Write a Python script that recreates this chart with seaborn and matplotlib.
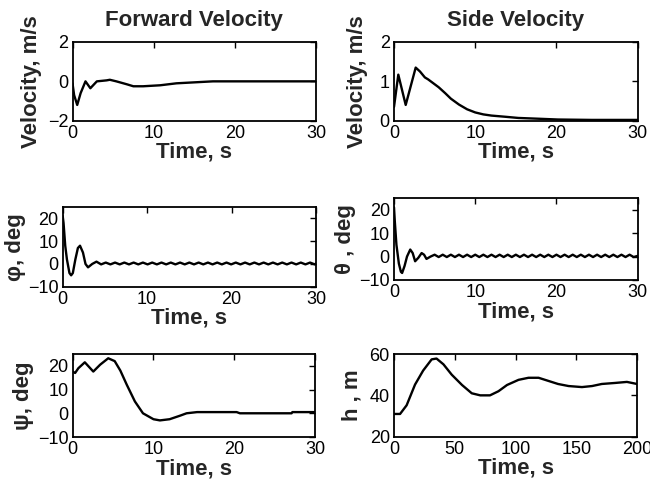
import numpy as np
import pandas as pd
import seaborn as sns
import matplotlib
matplotlib.use("Agg")
import matplotlib.pyplot as plt
from matplotlib import transforms

# forward velocity, m/s
fwd_t = [0, 0.2, 0.58, 1.0, 1.6, 2.2, 3.0, 4.2, 4.6, 5.4, 6.7, 7.5, 8.7, 10.8, 12.8, 17.3, 30]
fwd_v = [-0.1, -0.7, -1.2, -0.6, 0.0, -0.35, 0.0, 0.05, 0.08, 0.0, -0.15, -0.25, -0.25, -0.2, -0.1, 0.0, 0.0]

# side velocity, m/s
side_t = [0, 0.53, 1.44, 2.67, 3.2, 3.8, 4.2, 5.5, 6.3, 7.0, 8.0, 9.0, 10.0, 11.0, 12, 13.7,
          15.3, 17.8, 20.2, 24.3, 30]
side_v = [0.35, 1.17, 0.4, 1.35, 1.25, 1.1, 1.05, 0.85, 0.7, 0.56, 0.41, 0.29, 0.21, 0.16,
          0.13, 0.1, 0.07, 0.05, 0.03, 0.02, 0.02]

# roll angle phi, deg
phi_t = [0, 0.1, 0.3, 0.5, 0.8, 1.0, 1.2, 1.5, 1.8, 2.05, 2.4, 2.7, 3.0, 3.5, 4.0,
         4.55, 5.1, 5.65, 6.2, 6.75, 7.3, 7.85, 8.4, 8.95, 9.5, 10.05, 10.6, 11.15, 11.7,
         12.25, 12.8, 13.35, 13.9, 14.45, 15.0, 15.55, 16.1, 16.65, 17.2, 17.75, 18.3,
         18.85, 19.4, 19.95, 20.5, 21.05, 21.6, 22.15, 22.7, 23.25, 23.8, 24.35, 24.9,
         25.45, 26.0, 26.55, 27.1, 27.65, 28.2, 28.75, 29.3, 29.85, 30.0]
phi_v = [21, 18, 8, 2, -4, -5, -4, 2, 7, 8, 5, 0, -1.5, 0, 1,
         -0.2, 0.6, -0.2, 0.6, -0.2, 0.6, -0.2, 0.6, -0.2, 0.6, -0.2, 0.6, -0.2, 0.6,
         -0.2, 0.6, -0.2, 0.6, -0.2, 0.6, -0.2, 0.6, -0.2, 0.6, -0.2, 0.6,
         -0.2, 0.6, -0.2, 0.6, -0.2, 0.6, -0.2, 0.6, -0.2, 0.6, -0.2, 0.6,
         -0.2, 0.6, -0.2, 0.6, -0.2, 0.6, -0.2, 0.6, -0.2, 0.2]

# pitch angle theta, deg
theta_t = [0, 0.1, 0.3, 0.6, 0.85, 1.0, 1.3, 1.6, 2.0, 2.3, 2.6, 3.0, 3.4, 3.7, 4.0, 4.5,
           5.0, 5.5, 6.0, 6.5, 7.0, 7.5, 8.0, 8.5, 9.0, 9.5, 10.0, 10.5, 11.0, 11.5,
           12.0, 12.5, 13.0, 13.5, 14.0, 14.5, 15.0, 15.5, 16.0, 16.5, 17.0, 17.5,
           18.0, 18.5, 19.0, 19.5, 20.0, 20.5, 21.0, 21.5, 22.0, 22.5, 23.0, 23.5,
           24.0, 24.5, 25.0, 25.5, 26.0, 26.5, 27.0, 27.5, 28.0, 28.5, 29.0, 29.5, 30.0]
theta_v = [21, 15, 5, -3, -6.5, -7, -4, 0, 3, 1.5, -2, -0.5, 1.5, 0.8, -1, 0,
           0.8, -0.2, 0.8, -0.2, 0.8, -0.2, 0.8, -0.2, 0.8, -0.2, 0.8, -0.2, 0.8, -0.2,
           0.8, -0.2, 0.8, -0.2, 0.8, -0.2, 0.8, -0.2, 0.8, -0.2, 0.8, -0.2,
           0.8, -0.2, 0.8, -0.2, 0.8, -0.2, 0.8, -0.2, 0.8, -0.2, 0.8, -0.2,
           0.8, -0.2, 0.8, -0.2, 0.8, -0.2, 0.8, -0.2, 0.8, -0.2, 0.8, -0.2, 0.3]

# yaw angle psi, deg
psi_t = [0, 0.3, 0.7, 1.5, 2.55, 3.4, 4.4, 5.2, 5.9, 6.7, 7.7, 8.7, 10.0, 10.8, 12.0,
         13.3, 14.1, 15.4, 20.3, 20.7, 27.1, 27.2, 30]
psi_v = [17.6, 17, 19, 21.5, 17.6, 20.5, 23.2, 22, 18, 12, 5, 0, -2.5, -3, -2.5,
         -1, 0, 0.5, 0.5, 0, 0, 0.5, 0.5]

# height h, m (0..200 s)
h_t = [0, 5, 10.4, 17.3, 24, 31, 35, 40.7, 47.5, 56, 64, 71, 79, 86, 93, 102.5,
       110.7, 119, 127, 135, 143.7, 154.7, 163, 171, 182, 191.7, 200]
h_v = [31, 31, 35.2, 45.2, 52, 57.4, 57.8, 55, 50, 45, 41, 40, 40, 42, 45, 47.5,
       48.5, 48.5, 47, 45.5, 44.5, 44, 44.5, 45.5, 46, 46.5, 45.5]

sns.set_style("white")
plt.rcParams["font.family"] = ["Liberation Sans", "DejaVu Sans"]

fig = plt.figure(figsize=(6.5, 4.94), dpi=100)

W, H = 650.0, 494.0


def make_ax(x0, x1, y0, y1):
    return fig.add_axes([x0 / W, 1 - y1 / H, (x1 - x0) / W, (y1 - y0) / H])


panels = [
    dict(box=(72.5, 316, 42, 120.7), t=fwd_t, v=fwd_v, xlim=(0, 30), ylim=(-2, 2),
         xt=[0, 10, 20, 30], yt=[-2, 0, 2], ylab="Velocity, m/s", ylx=31,
         title="Forward Velocity"),
    dict(box=(394, 637.7, 42, 120.7), t=side_t, v=side_v, xlim=(0, 30), ylim=(0, 2),
         xt=[0, 10, 20, 30], yt=[0, 1, 2], ylab="Velocity, m/s", ylx=357,
         title="Side Velocity"),
    dict(box=(62.7, 316, 207, 286.7), t=phi_t, v=phi_v, xlim=(0, 30), ylim=(-10, 25),
         xt=[0, 10, 20, 30], yt=[-10, 0, 10, 20], ylab="φ, deg", ylx=15.5, title=None),
    dict(box=(394, 637.7, 198, 280), t=theta_t, v=theta_v, xlim=(0, 30), ylim=(-10, 25),
         xt=[0, 10, 20, 30], yt=[-10, 0, 10, 20], ylab="θ , deg", ylx=345, title=None),
    dict(box=(72.7, 315, 354, 437), t=psi_t, v=psi_v, xlim=(0, 30), ylim=(-10, 25),
         xt=[0, 10, 20, 30], yt=[-10, 0, 10, 20], ylab="ψ, deg", ylx=24, title=None),
    dict(box=(394, 637, 354, 436.7), t=h_t, v=h_v, xlim=(0, 200), ylim=(20, 60),
         xt=[0, 50, 100, 150, 200], yt=[20, 40, 60], ylab="h , m", ylx=352, title=None),
]

for p in panels:
    ax = make_ax(*p["box"])
    df = pd.DataFrame({"t": p["t"], "v": p["v"]})
    sns.lineplot(data=df, x="t", y="v", ax=ax, color="black", linewidth=1.7)
    ax.set_xlim(*p["xlim"])
    ax.set_ylim(*p["ylim"])
    ax.set_xticks(p["xt"])
    ax.set_yticks(p["yt"])
    ax.tick_params(direction="in", top=True, right=True, length=4, width=1,
                   labelsize=13, pad=3, colors="black")
    for s in ax.spines.values():
        s.set_linewidth(1.3)
        s.set_color("black")
    ax.set_xlabel("Time, s", fontsize=16, fontweight="bold", labelpad=0)
    ax.set_ylabel(p["ylab"], fontsize=16, fontweight="bold")
    trans = transforms.blended_transform_factory(fig.transFigure, ax.transAxes)
    ax.yaxis.set_label_coords(p["ylx"] / W, 0.5, transform=trans)
    ax.yaxis.label.set_va("center")
    if p["title"]:
        ax.set_title(p["title"], fontsize=16, fontweight="bold", pad=11.5)

fig.savefig("out.png", dpi=100)
